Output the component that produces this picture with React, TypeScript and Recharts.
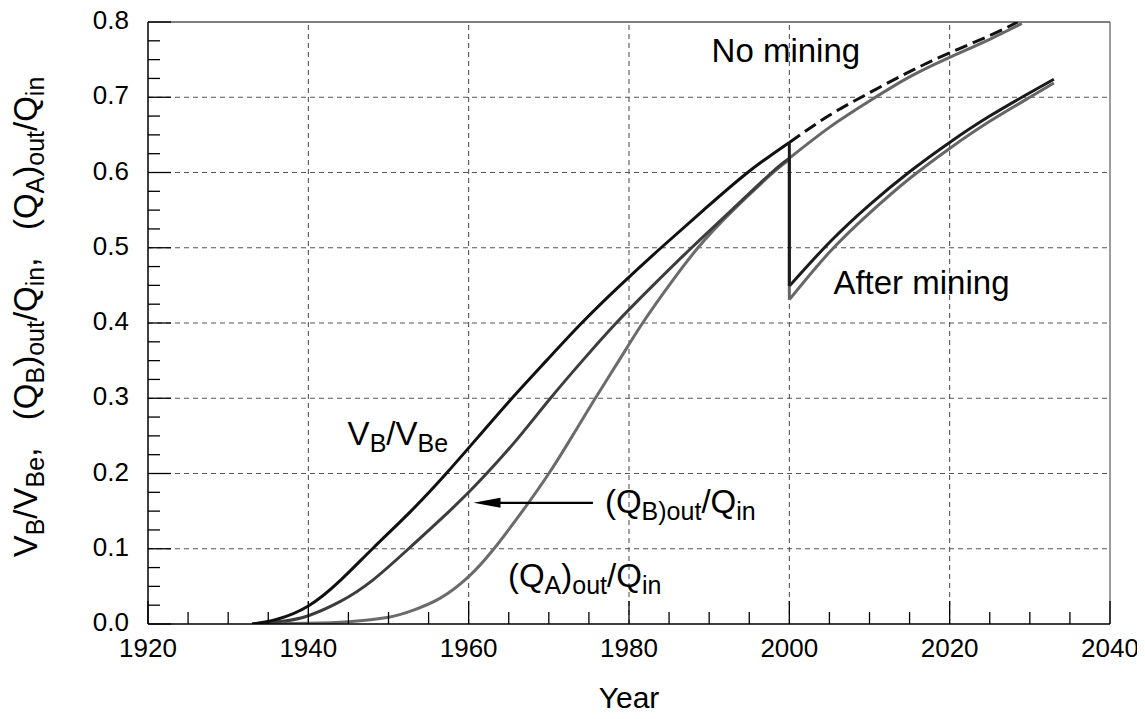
import React from "react";
import { LineChart, Line, XAxis, YAxis, ReferenceLine, ReferenceDot } from "recharts";

// ---- data ----
const vbYears = [1933, 1936, 1940, 1944, 1948, 1952.8, 1957.2, 1961.3, 1965.4, 1969.7, 1974.1, 1978.9, 1984, 1989.3, 1994.8, 2000];
const vbRise = [0.0, 0.006, 0.024, 0.058, 0.1, 0.15, 0.2, 0.25, 0.3, 0.35, 0.4, 0.45, 0.5, 0.55, 0.6, 0.64];

const qbYears = [1933, 1937, 1940, 1944, 1948, 1952.3, 1957, 1960, 1962.5, 1966, 1970.2, 1974.2, 1978.4, 1983, 1987.8, 1992.8, 1997.8, 2000];
const qbRise = [0.0, 0.004, 0.011, 0.03, 0.058, 0.098, 0.144, 0.175, 0.203, 0.245, 0.3, 0.35, 0.4, 0.45, 0.5, 0.55, 0.6, 0.619];

const qaYears = [1933, 1940, 1945, 1950, 1953, 1956.4, 1960, 1963, 1966.5, 1970, 1973, 1975.8, 1978.8, 1981.7, 1985, 1988.6, 1993, 1998, 2000];
const qaRise = [0.0, 0.001, 0.003, 0.009, 0.018, 0.034, 0.063, 0.098, 0.147, 0.2, 0.251, 0.3, 0.351, 0.4, 0.45, 0.5, 0.55, 0.6, 0.617];

const afterYears = [2000, 2005, 2010, 2015, 2020, 2025, 2030, 2033];
const vbAfter = [0.449, 0.507, 0.557, 0.601, 0.64, 0.675, 0.706, 0.724];
const qAfter = [0.431, 0.494, 0.546, 0.592, 0.632, 0.668, 0.7, 0.719];

const vbNoMiningYears = [2000, 2005, 2010, 2015, 2020, 2025, 2028.5];
const vbNoMining = [0.64, 0.676, 0.706, 0.734, 0.759, 0.782, 0.8];
const qNoMiningYears = [2000, 2005, 2010, 2015, 2020, 2025, 2029];
const qNoMining = [0.619, 0.66, 0.695, 0.727, 0.753, 0.777, 0.798];

const dropYear = [2000, 2000];
const vbDrop = [0.64, 0.449];
const qDrop = [0.619, 0.431];

const xMajorTicks = [1920, 1940, 1960, 1980, 2000, 2020, 2040];
const xTicks = [1920, 1925, 1930, 1935, 1940, 1945, 1950, 1955, 1960, 1965, 1970, 1975, 1980, 1985, 1990, 1995, 2000, 2005, 2010, 2015, 2020, 2025, 2030, 2035, 2040];
const yMajorTicks = [0, 0.1, 0.2, 0.3, 0.4, 0.5, 0.6, 0.7, 0.8];
const yTicks = [0, 0.025, 0.05, 0.075, 0.1, 0.125, 0.15, 0.175, 0.2, 0.225, 0.25, 0.275, 0.3, 0.325, 0.35, 0.375, 0.4, 0.425, 0.45, 0.475, 0.5, 0.525, 0.55, 0.575, 0.6, 0.625, 0.65, 0.675, 0.7, 0.725, 0.75, 0.775, 0.8];
const xGrid = [1940, 1960, 1980, 2000, 2020];
const yGrid = [0.1, 0.2, 0.3, 0.4, 0.5, 0.6, 0.7];

const toRows = (xs: number[], vs: number[]) => xs.map((year, i) => ({ year, v: vs[i] }));

const FONT = "'Liberation Sans', Arial, Helvetica, sans-serif";

const XTick = (props: any) => {
  const { x, y, payload } = props;
  const v = payload.value;
  const major = xMajorTicks.includes(v);
  return (
    <g>
      <line x1={x} y1={y} x2={x} y2={y - (major ? 23 : 12)} stroke="#000" strokeWidth={1.3} />
      {major && (
        <text x={x} y={y + 33} textAnchor="middle" fontSize={26} fontFamily={FONT} fill="#000">
          {v}
        </text>
      )}
    </g>
  );
};

const YTick = (props: any) => {
  const { x, y, payload } = props;
  const v = payload.value;
  const major = yMajorTicks.some((t) => Math.abs(t - v) < 1e-9);
  return (
    <g>
      <line x1={x} y1={y} x2={x + (major ? 23 : 12)} y2={y} stroke="#000" strokeWidth={1.3} />
      {major && (
        <text x={x - 19} y={y + 7} textAnchor="end" fontSize={26} fontFamily={FONT} fill="#000">
          {v.toFixed(1)}
        </text>
      )}
    </g>
  );
};

const SUB = 25;
const MAIN = 33;
const SH = 7;

const YLabel = () => (
  <text
    x={29}
    y={317}
    transform="rotate(-90, 29, 317)"
    textAnchor="middle"
    fontSize={MAIN}
    fontFamily={FONT}
    fill="#000"
    style={{ whiteSpace: "pre" }}
  >
    <tspan>V</tspan>
    <tspan fontSize={SUB} dy={SH}>B</tspan>
    <tspan dy={-SH}>/V</tspan>
    <tspan fontSize={SUB} dy={SH}>Be</tspan>
    <tspan dy={-SH}>{",   (Q"}</tspan>
    <tspan fontSize={SUB} dy={SH}>B</tspan>
    <tspan dy={-SH}>)</tspan>
    <tspan fontSize={SUB} dy={SH}>out</tspan>
    <tspan dy={-SH}>/Q</tspan>
    <tspan fontSize={SUB} dy={SH}>in</tspan>
    <tspan dy={-SH}>{",   (Q"}</tspan>
    <tspan fontSize={SUB} dy={SH}>A</tspan>
    <tspan dy={-SH}>)</tspan>
    <tspan fontSize={SUB} dy={SH}>out</tspan>
    <tspan dy={-SH}>/Q</tspan>
    <tspan fontSize={SUB} dy={SH}>in</tspan>
  </text>
);

const XLabel = () => (
  <text x={621} y={708} textAnchor="middle" fontSize={30} fontFamily={FONT} fill="#000">
    Year
  </text>
);

const textAt = (content: React.ReactNode) => (p: any) => (
  <text x={p.cx} y={p.cy} fontSize={MAIN} fontFamily={FONT} fill="#000">
    {content}
  </text>
);

const arrowHead = (p: any) => (
  <polygon points={`${p.cx},${p.cy} ${p.cx + 27},${p.cy - 5} ${p.cx + 27},${p.cy + 5}`} fill="#000" />
);

const lineCommon = {
  dataKey: "v",
  dot: false,
  activeDot: false,
  isAnimationActive: false,
  type: "natural" as const,
  strokeWidth: 3,
};

export default function App() {
  return (
    <div style={{ marginTop: -8 }}>
      <LineChart width={1130} height={718} margin={{ top: 22, right: 28, bottom: 34, left: 40 }}>
        <XAxis
          dataKey="year"
          type="number"
          domain={[1920, 2040]}
          ticks={xTicks}
          interval={0}
          tick={XTick}
          tickLine={false}
          tickSize={0}
          tickMargin={0}
          height={60}
          axisLine={{ stroke: "#000", strokeWidth: 1.5 }}
          allowDataOverflow
          label={XLabel}
        />
        <YAxis
          type="number"
          domain={[0, 0.8]}
          ticks={yTicks}
          interval={0}
          tick={YTick}
          tickLine={false}
          tickSize={0}
          tickMargin={0}
          width={100}
          axisLine={{ stroke: "#000", strokeWidth: 1.5 }}
          allowDataOverflow
          label={YLabel}
        />
        {xGrid.map((g) => (
          <ReferenceLine key={"xg" + g} x={g} stroke="#444" strokeWidth={1} strokeDasharray="5 4" />
        ))}
        {yGrid.map((g) => (
          <ReferenceLine key={"yg" + g} y={g} stroke="#555" strokeWidth={1} strokeDasharray="5 4" />
        ))}
        <ReferenceLine y={0.8} stroke="#555" strokeWidth={1.3} />
        <ReferenceLine x={2040} stroke="#666" strokeWidth={1.3} />

        <Line {...lineCommon} data={toRows(qaYears, qaRise)} stroke="#6b6b6b" />
        <Line {...lineCommon} data={toRows(qbYears, qbRise)} stroke="#3d3d3d" />
        <Line {...lineCommon} data={toRows(vbYears, vbRise)} stroke="#111" />

        <Line {...lineCommon} data={toRows(qNoMiningYears, qNoMining)} stroke="#666" />
        <Line {...lineCommon} data={toRows(vbNoMiningYears, vbNoMining)} stroke="#111" strokeDasharray="13 6" />

        <Line {...lineCommon} data={toRows(afterYears, qAfter)} stroke="#666" />
        <Line {...lineCommon} data={toRows(afterYears, vbAfter)} stroke="#1a1a1a" />

        <Line {...lineCommon} type="linear" data={toRows(dropYear, qDrop)} stroke="#666" />
        <Line {...lineCommon} type="linear" data={toRows(dropYear, vbDrop)} stroke="#1a1a1a" />

        <ReferenceLine
          segment={[
            { x: 1962, y: 0.161 },
            { x: 1975.5, y: 0.161 },
          ]}
          stroke="#000"
          strokeWidth={2.2}
        />
        <ReferenceDot x={1960.6} y={0.161} r={0} shape={arrowHead} />

        <ReferenceDot x={1990.3} y={0.747} r={0} shape={textAt("No mining")} />
        <ReferenceDot x={2005.5} y={0.438} r={0} shape={textAt("After mining")} />
        <ReferenceDot
          x={1944.9}
          y={0.238}
          r={0}
          shape={textAt(
            <>
              <tspan>V</tspan>
              <tspan fontSize={SUB} dy={SH}>B</tspan>
              <tspan dy={-SH}>/V</tspan>
              <tspan fontSize={SUB} dy={SH}>Be</tspan>
            </>
          )}
        />
        <ReferenceDot
          x={1977}
          y={0.147}
          r={0}
          shape={textAt(
            <>
              <tspan>(Q</tspan>
              <tspan fontSize={SUB} dy={SH}>B)out</tspan>
              <tspan dy={-SH}>/Q</tspan>
              <tspan fontSize={SUB} dy={SH}>in</tspan>
            </>
          )}
        />
        <ReferenceDot
          x={1964.9}
          y={0.049}
          r={0}
          shape={textAt(
            <>
              <tspan>(Q</tspan>
              <tspan fontSize={SUB} dy={SH}>A</tspan>
              <tspan dy={-SH}>)</tspan>
              <tspan fontSize={SUB} dy={SH}>out</tspan>
              <tspan dy={-SH}>/Q</tspan>
              <tspan fontSize={SUB} dy={SH}>in</tspan>
            </>
          )}
        />
      </LineChart>
    </div>
  );
}
